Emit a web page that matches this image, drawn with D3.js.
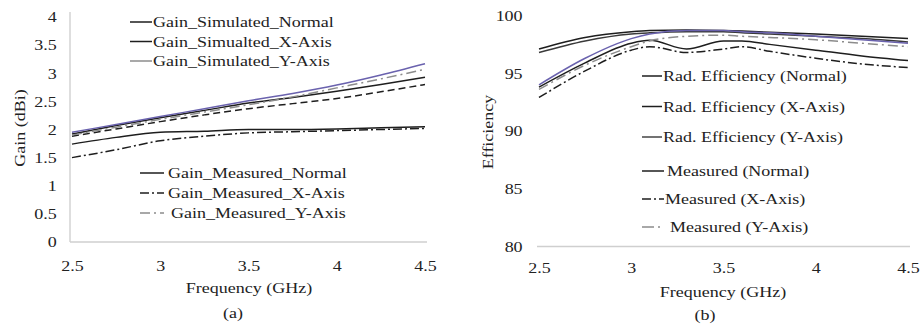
<!DOCTYPE html>
<html>
<head>
<meta charset="utf-8">
<script src="https://cdn.jsdelivr.net/npm/d3@7"></script>
<style>
  body { margin: 0; background: #fff; }
  text { font-family: "Liberation Serif", "Times New Roman", serif; fill: #222; }
</style>
</head>
<body>
<svg id="chart" width="921" height="329"></svg>
<script>
// panel (a): gain
let freqA = [2.5, 2.75, 3.0, 3.25, 3.5, 3.75, 4.0, 4.25, 4.5]
let gainSimNormal = [1.92, 2.07, 2.21, 2.34, 2.47, 2.57, 2.68, 2.80, 2.93]
let gainSimX      = [1.88, 2.01, 2.14, 2.26, 2.37, 2.46, 2.55, 2.67, 2.80]
let gainSimY      = [1.95, 2.09, 2.23, 2.37, 2.51, 2.64, 2.79, 2.97, 3.17]
let gainMeasNormal = [1.74, 1.86, 1.95, 1.97, 2.00, 2.00, 2.01, 2.03, 2.05]
let gainMeasX      = [1.50, 1.64, 1.80, 1.88, 1.94, 1.96, 1.98, 2.00, 2.02]
let gainMeasY      = [1.90, 2.04, 2.18, 2.31, 2.44, 2.58, 2.74, 2.90, 3.07]
let gainTicks = [0, 0.5, 1, 1.5, 2, 2.5, 3, 3.5, 4]

// panel (b): efficiency
let freqB = [2.5, 2.75, 3.0, 3.1, 3.3, 3.5, 3.6, 3.75, 4.0, 4.25, 4.5]
let effRadNormal = [97.1, 98.1, 98.6, 98.7, 98.75, 98.7, 98.65, 98.55, 98.4, 98.2, 98.0]
let effRadX      = [96.8, 97.8, 98.4, 98.5, 98.6, 98.6, 98.5, 98.4, 98.2, 98.0, 97.7]
let effRadY      = [94.0, 96.3, 98.0, 98.4, 98.7, 98.7, 98.6, 98.5, 98.2, 97.9, 97.6]
let effMeasNormal = [93.8, 95.9, 97.6, 97.85, 97.1, 97.8, 97.8, 97.5, 97.0, 96.5, 96.1]
let effMeasX      = [92.9, 95.2, 97.0, 97.3, 96.8, 97.1, 97.3, 96.9, 96.3, 95.8, 95.5]
let effMeasY      = [93.6, 95.7, 97.3, 97.8, 98.2, 98.3, 98.2, 98.1, 97.9, 97.6, 97.3]
let effTicks = [80, 85, 90, 95, 100]

let freqTicks = [2.5, 3, 3.5, 4, 4.5]

let black = "#1e1e1e", purple = "#6a62ae", grey = "#8c8c8c"
let sx = 1.2

let svg = d3.select("#chart")

function attrs(sel, o) {
  for (let k in o) sel.attr(k, o[k])
  return sel
}

function draw_panel(p) {
  let x = d3.scaleLinear().domain([2.5, 4.5]).range(p.xr)
  let y = d3.scaleLinear().domain(p.yd).range(p.yr)
  let g = svg.append("g")

  // axis lines
  if (p.vline) {
    attrs(g.append("line"), {x1: p.xr[0] - 2, x2: p.xr[0] - 2, y1: p.yr[1] - 5, y2: p.yr[0],
      stroke: "#c8c8c8", "stroke-width": 1.2})
  }
  attrs(g.append("line"), {x1: p.xr[0] - 2, x2: p.xr[1] + 2, y1: p.yr[0], y2: p.yr[0],
    stroke: "#cfcfcf", "stroke-width": 1.5})

  let ya = g.append("g")
    .attr("transform", `translate(${p.xr[0] - 2},0)`)
    .call(d3.axisLeft(y).tickValues(p.yticks).tickFormat(d3.format("")).tickSize(0).tickPadding(p.ypad))
  ya.select(".domain").remove()
  ya.selectAll("text").attr("font-size", 15).attr("transform", `scale(${sx},1)`)
    .style("font-family", "Liberation Serif")

  let xa = g.append("g")
    .attr("transform", `translate(0,${p.yr[0]})`)
    .call(d3.axisBottom(x).tickValues(freqTicks).tickFormat(d3.format("")).tickSize(0))
  xa.select(".domain").remove()
  xa.selectAll("text").attr("font-size", 15).attr("dy", 0).attr("y", p.xlabY)
    .attr("transform", `scale(${sx},1)`).style("font-family", "Liberation Serif")

  let line = d3.line().x(d => x(d[0])).y(d => y(d[1])).curve(d3.curveMonotoneX)
  p.series.forEach(s => {
    let path = g.append("path").datum(p.freq.map((f, i) => [f, s.values[i]]))
    attrs(path, {d: line, fill: "none", stroke: s.color, "stroke-width": 1.5,
      "stroke-dasharray": s.dash || null})
  })

  // titles
  label(g, p.xtitle[0], p.xtitle[1], "Frequency (GHz)", 0)
  label(g, p.ytitle[0], p.ytitle[1], p.ytext, -90)
  label(g, p.sub[0], p.sub[1], p.subText, 0)

  p.legends.forEach(lg => {
    lg.items.forEach((it, i) => {
      let yy = lg.y + i * lg.step
      attrs(g.append("line"), {x1: lg.x, x2: lg.x + lg.len, y1: yy, y2: yy,
        stroke: it.color, "stroke-width": 1.5, "stroke-dasharray": it.dash || null})
      g.append("text")
        .attr("transform", `translate(${lg.x + lg.len + 1 + (it.off || 0)},${yy + 5}) scale(${sx},1)`)
        .attr("font-size", 15)
        .text(it.name)
    })
  })
}

function label(g, cx, cy, txt, rot) {
  g.append("text")
    .attr("transform", `translate(${cx},${cy}) rotate(${rot}) scale(${sx},1)`)
    .attr("text-anchor", "middle")
    .attr("font-size", 15)
    .text(txt)
}

draw_panel({
  xr: [72, 425], yd: [0, 4], yr: [242, 17], yticks: gainTicks, ypad: 11, xlabY: 29, vline: true,
  freq: freqA,
  series: [
    {values: gainSimNormal, color: black},
    {values: gainSimX, color: black, dash: "7,4"},
    {values: gainSimY, color: purple},
    {values: gainMeasNormal, color: black},
    {values: gainMeasX, color: black, dash: "9,3,2,3"},
    {values: gainMeasY, color: grey, dash: "10,4,2,4"}
  ],
  xtitle: [249, 293], ytitle: [25, 128], ytext: "Gain (dBi)", sub: [233, 318], subText: "(a)",
  legends: [
    {x: 130, y: 22, step: 19.5, len: 22, items: [
      {name: "Gain_Simulated_Normal", color: black},
      {name: "Gain_Simualted_X-Axis", color: black},
      {name: "Gain_Simulated_Y-Axis", color: grey}
    ]},
    {x: 140, y: 173, step: 20, len: 24, items: [
      {name: "Gain_Measured_Normal", color: black, off: 3},
      {name: "Gain_Measured_X-Axis", color: black, dash: "9,3,2,3", off: 3},
      {name: "Gain_Measured_Y-Axis", color: grey, dash: "10,4,2,4", off: 6}
    ]}
  ]
})

draw_panel({
  xr: [539, 908], yd: [80, 100], yr: [246.5, 15.5], yticks: effTicks, ypad: 12, xlabY: 27, vline: false,
  freq: freqB,
  series: [
    {values: effRadNormal, color: black},
    {values: effRadX, color: "#3a3a3a"},
    {values: effRadY, color: purple},
    {values: effMeasNormal, color: black},
    {values: effMeasX, color: black, dash: "9,3,2,3"},
    {values: effMeasY, color: grey, dash: "10,4,2,4"}
  ],
  xtitle: [723, 297], ytitle: [493, 132], ytext: "Efficiency", sub: [705, 320], subText: "(b)",
  legends: [
    {x: 642, y: 76, step: 30.5, len: 20, items: [
      {name: "Rad. Efficiency (Normal)", color: black},
      {name: "Rad. Efficiency (X-Axis)", color: black},
      {name: "Rad. Efficiency (Y-Axis)", color: "#444"}
    ]},
    {x: 642, y: 171, step: 28, len: 22, items: [
      {name: "Measured (Normal)", color: black, off: 2},
      {name: "Measured (X-Axis)", color: black, dash: "9,3,2,3", off: 0},
      {name: "Measured (Y-Axis)", color: grey, dash: "12,4,2,4", off: 5}
    ]}
  ]
})
</script>
</body>
</html>
